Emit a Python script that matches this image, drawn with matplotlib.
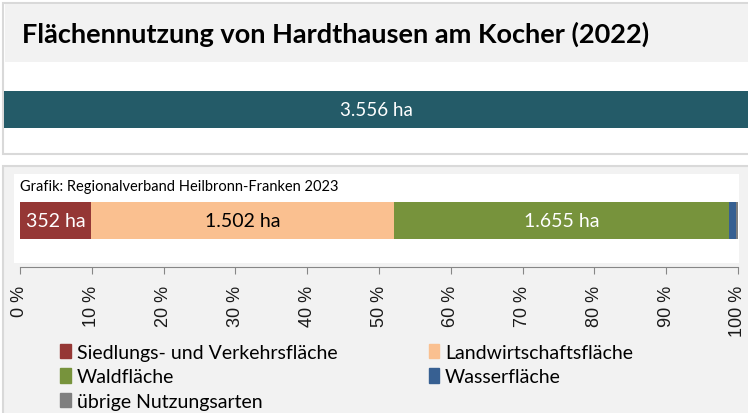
import matplotlib.pyplot as plt
from matplotlib.patches import Rectangle, Patch

# Flächennutzung Hardthausen am Kocher 2022, Angaben in ha
categories = ["Siedlungs- und Verkehrsfläche", "Landwirtschaftsfläche", "Waldfläche",
              "Wasserfläche", "übrige Nutzungsarten"]
values = [352, 1502, 1655, 38, 9]
colors = ["#953735", "#fac090", "#77933c", "#376092", "#7f7f7f"]
label_colors = ["white", "black", "white", "white", "white"]
total_ha = 3556
ticks = list(range(0, 101, 10))

W, H = 748, 414
SANS = ["Lato", "DejaVu Sans"]


def fbox(x0, y0, x1, y1):
    # pixel box (origin top left) -> figure fraction rect
    return [x0 / W, 1 - y1 / H, (x1 - x0) / W, (y1 - y0) / H]


def ha(v):
    return f"{v:,} ha".replace(",", ".")


def panel(x0, y0, x1, y1, fc, ec="none", lw=0):
    x, y, w, h = fbox(x0, y0, x1, y1)
    fig.add_artist(Rectangle((x, y), w, h, transform=fig.transFigure, facecolor=fc,
                             edgecolor=ec, lw=lw, zorder=-10))


fig = plt.figure(figsize=(W / 100, H / 100), dpi=100)
fig.patch.set_facecolor("white")

# panel backgrounds
panel(3.5, 3.5, 760, 155, "white", "#d9d9d9", 1.5)
panel(4.5, 4.5, 760, 63, "#f2f2f2")
panel(3.5, 166.5, 760, 420, "#f2f2f2", "#d9d9d9", 1.5)
panel(14, 175, 739, 264, "white")

fig.text(22 / W, 1 - 34 / H, "Flächennutzung von Hardthausen am Kocher (2022)",
         family=SANS, fontweight="bold", fontsize=19.5, va="center", ha="left")

# total area bar
ax_top = fig.add_axes(fbox(4, 92, 748, 129))
ax_top.barh(0, total_ha, height=1, color="#245b68")
ax_top.set_xlim(0, total_ha)
ax_top.set_ylim(-0.5, 0.5)
ax_top.text(total_ha / 2, 0, ha(total_ha), color="white", ha="center", va="center",
            family=SANS, fontsize=13.5)
ax_top.axis("off")

# shares bar
ax = fig.add_axes(fbox(20, 175, 738, 268))
ax.set_facecolor("none")
shares = [v / sum(values) * 100 for v in values]
left = 0
bar_y = (268 - 221.5) / 93
bar_h = 37 / 93
for cat, v, s, c, lc in zip(categories, values, shares, colors, label_colors):
    ax.barh(bar_y, s, left=left, height=bar_h, color=c, label=cat)
    if s > 5:
        ax.text(left + s / 2, bar_y, ha(v), color=lc, ha="center", va="center",
                family=SANS, fontsize=14)
    left += s
ax.set_xlim(0, 100)
ax.set_ylim(0, 1)
ax.set_yticks([])
ax.set_xticks(ticks)
ax.set_xticklabels([f"{t} %" for t in ticks], rotation=90, family="Liberation Sans",
                   fontsize=13, color="#1a1a1a")
for side in ["top", "left", "right"]:
    ax.spines[side].set_visible(False)
ax.spines["bottom"].set_color("#868686")
ax.tick_params(axis="x", length=5, color="#868686", pad=8)

ax.text(0, (268 - 187) / 93, "Grafik: Regionalverband Heilbronn-Franken 2023",
        family=SANS, fontsize=10.5, va="center", ha="left")

# legend, filled row by row
order = [0, 2, 4, 1, 3]
handles = [Patch(color=colors[i]) for i in order]
labels = [categories[i] for i in order]
fig.legend(handles, labels, ncol=2, loc="upper left", bbox_to_anchor=(60 / W, 1 - 345 / H),
           frameon=False, prop={"family": SANS, "size": 14}, handlelength=0.55,
           handleheight=0.75, handletextpad=0.3, labelspacing=0.38, columnspacing=4.7,
           borderaxespad=0, borderpad=0)

fig.savefig("out.png", dpi=100)
